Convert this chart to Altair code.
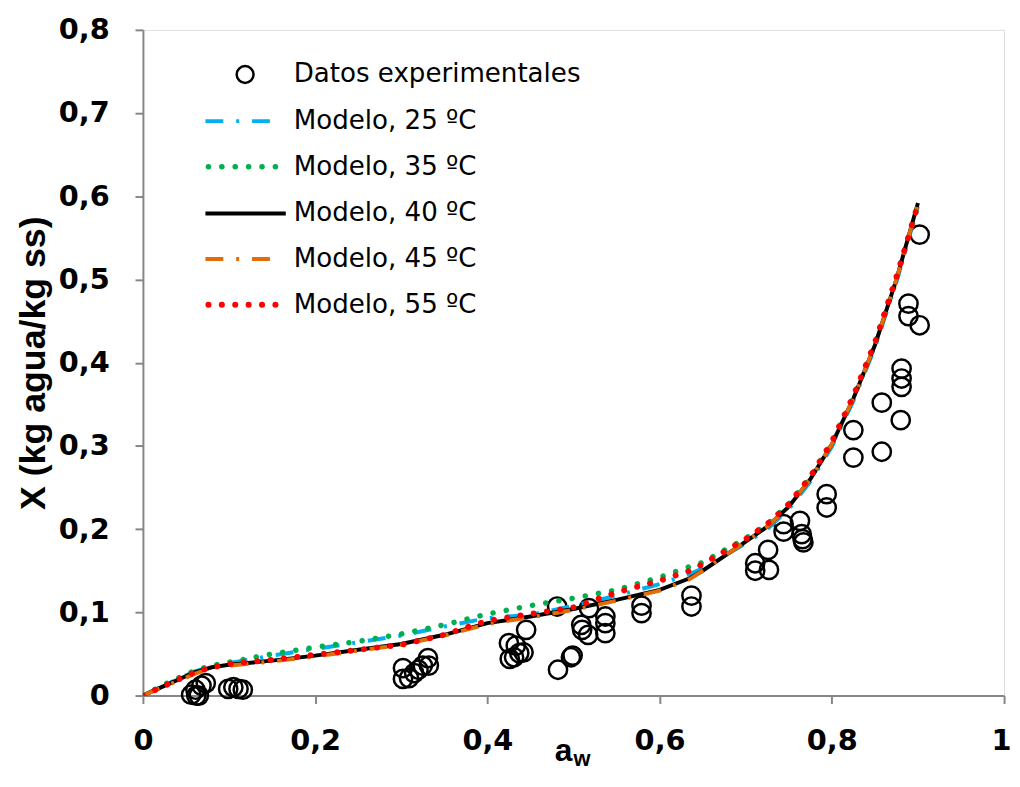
import altair as alt
import pandas as pd

# Experimental data (a_w, X)
exp_aw = [0.056, 0.061, 0.065, 0.068, 0.073, 0.062,
          0.099, 0.105, 0.111, 0.116,
          0.302, 0.302, 0.309, 0.315, 0.320, 0.325, 0.331, 0.332,
          0.425, 0.426, 0.431, 0.433, 0.437, 0.442, 0.445,
          0.481, 0.482, 0.497, 0.499,
          0.509, 0.510, 0.517, 0.518, 0.537, 0.537, 0.537,
          0.579, 0.579, 0.637, 0.637,
          0.711, 0.711, 0.727, 0.726,
          0.744, 0.744, 0.763, 0.765, 0.766, 0.767,
          0.794, 0.794,
          0.825, 0.825, 0.858, 0.858, 0.880, 0.881, 0.881, 0.881,
          0.889, 0.889, 0.902, 0.902]
exp_x = [0.001, 0.007, 0.000, 0.012, 0.015, 0.000,
         0.008, 0.010, 0.008, 0.007,
         0.033, 0.020, 0.021, 0.027, 0.031, 0.036, 0.045, 0.036,
         0.063, 0.044, 0.046, 0.060, 0.051, 0.052, 0.079,
         0.107, 0.031, 0.046, 0.048,
         0.085, 0.079, 0.073, 0.105, 0.095, 0.087, 0.075,
         0.108, 0.099, 0.120, 0.107,
         0.159, 0.150, 0.151, 0.175,
         0.206, 0.197, 0.210, 0.194, 0.188, 0.184,
         0.242, 0.226,
         0.319, 0.286, 0.293, 0.352, 0.331, 0.393, 0.381, 0.371,
         0.471, 0.456, 0.445, 0.554]

# Model curves
aw_model = [0.0, 0.03, 0.06, 0.08, 0.10, 0.15, 0.20, 0.25, 0.30, 0.35, 0.40, 0.45,
            0.50, 0.55, 0.60, 0.635, 0.65, 0.70, 0.725, 0.75, 0.775, 0.80, 0.825,
            0.85, 0.875, 0.90]
x_25 = [0.000, 0.015, 0.029, 0.035, 0.039, 0.048, 0.056, 0.064, 0.072, 0.083, 0.093, 0.097,
        0.108, 0.120, 0.134, 0.146, 0.153, 0.183, 0.200, 0.224, 0.257, 0.299, 0.354,
        0.418, 0.497, 0.588]
x_35 = [0.000, 0.016, 0.030, 0.036, 0.040, 0.050, 0.058, 0.065, 0.074, 0.085, 0.098, 0.108,
        0.117, 0.127, 0.142, 0.155, 0.160, 0.189, 0.206, 0.230, 0.262, 0.303, 0.358,
        0.422, 0.500, 0.590]
x_40 = [0.000, 0.014, 0.028, 0.034, 0.037, 0.042, 0.048, 0.055, 0.062, 0.073, 0.087, 0.095,
        0.104, 0.115, 0.127, 0.141, 0.150, 0.185, 0.203, 0.227, 0.260, 0.302, 0.357,
        0.421, 0.500, 0.592]
x_45 = [0.000, 0.013, 0.026, 0.033, 0.036, 0.041, 0.047, 0.054, 0.061, 0.072, 0.086, 0.094,
        0.103, 0.114, 0.126, 0.140, 0.150, 0.185, 0.203, 0.227, 0.260, 0.302, 0.357,
        0.421, 0.500, 0.591]
x_55 = [0.000, 0.014, 0.028, 0.034, 0.038, 0.043, 0.049, 0.055, 0.061, 0.073, 0.090, 0.098,
        0.106, 0.124, 0.138, 0.150, 0.158, 0.188, 0.206, 0.230, 0.263, 0.305, 0.360,
        0.424, 0.503, 0.590]

legend_labels = ["Datos experimentales", "Modelo, 25 ºC", "Modelo, 35 ºC",
                 "Modelo, 40 ºC", "Modelo, 45 ºC", "Modelo, 55 ºC"]

FONT = "Liberation Sans"
WFONT = "DejaVu Sans"
W, H = 868, 671

exp_df = pd.DataFrame({"aw": exp_aw, "X": exp_x})

xscale = alt.Scale(domain=[0, 1], nice=False)
yscale = alt.Scale(domain=[0, 0.8], nice=False)

label_expr = "replace(format(datum.value, '.1~f'), '.', ',')"

x_axis = alt.Axis(values=[0, 0.2, 0.4, 0.6, 0.8, 1.0], labelExpr=label_expr, title=None,
                  grid=False, labelFont=WFONT, labelFontSize=29, labelFontWeight="bold",
                  labelColor="black", domainColor="#868686", domainWidth=2,
                  tickColor="#868686", tickWidth=2, tickSize=8, labelPadding=23,
                  labelFlush=False,
                  labelOffset={"condition": {"test": "datum.value === 1", "value": -3},
                               "value": 0})
y_axis = alt.Axis(values=[0, 0.1, 0.2, 0.3, 0.4, 0.5, 0.6, 0.7, 0.8], labelExpr=label_expr,
                  title="X (kg agua/kg ss)", grid=False, labelFont=WFONT, labelFontSize=29,
                  labelFontWeight="bold", labelColor="black", domainColor="#868686",
                  domainWidth=2, tickColor="#868686", tickWidth=2, tickSize=8,
                  labelPadding=26, titleFont=FONT, titleFontSize=36, titleFontWeight="bold",
                  titleColor="black", titlePadding=6, labelFlush=False)

points = alt.Chart(exp_df).mark_point(shape="circle", size=340, filled=False,
                                      stroke="black", strokeWidth=2.5, opacity=1).encode(
    x=alt.X("aw:Q", scale=xscale, axis=x_axis),
    y=alt.Y("X:Q", scale=yscale, axis=y_axis),
)


def model_line(vals, color, dash, width, cap="butt"):
    df = pd.DataFrame({"aw": aw_model, "X": vals})
    kw = dict(color=color, strokeWidth=width, strokeCap=cap, clip=True)
    if dash:
        kw["strokeDash"] = dash
    return alt.Chart(df).mark_line(**kw).encode(
        x=alt.X("aw:Q", scale=xscale),
        y=alt.Y("X:Q", scale=yscale),
    )


BLUE = "#00B0F0"
GREEN = "#00B050"
ORANGE = "#E36C09"
RED = "#FF0000"

DASHDOT = [18, 13, 3, 13]
DOT = [0.1, 13.4]

l25 = model_line(x_25, BLUE, DASHDOT, 4)
l35 = model_line(x_35, GREEN, DOT, 5.5, "round")
l40 = model_line(x_40, "black", None, 4)
l45 = model_line(x_45, ORANGE, DASHDOT, 4)
l55 = model_line(x_55, RED, DOT, 6, "round")

# Legend (in-plot, drawn manually)
leg_y = [45, 92, 138, 185, 231, 277]
leg_df = pd.DataFrame({"label": legend_labels, "ly": leg_y})
leg_text = alt.Chart(leg_df).mark_text(align="left", baseline="middle", font=WFONT,
                                       fontSize=26.3, color="black").encode(
    x=alt.value(152), y=alt.Y("ly:Q", scale=None), text="label:N")

leg_circle = alt.Chart(leg_df.iloc[[0]]).mark_point(
    shape="circle", size=290, filled=False, stroke="black", strokeWidth=2.5, opacity=1
).encode(x=alt.value(103), y=alt.Y("ly:Q", scale=None))


def leg_line(i, color, dash, width, cap="butt", x1=63, x2=140):
    kw = dict(color=color, strokeWidth=width, strokeCap=cap)
    if dash:
        kw["strokeDash"] = dash
    return alt.Chart(leg_df.iloc[[i]]).mark_rule(**kw).encode(
        x=alt.value(x1), x2=alt.value(x2), y=alt.Y("ly:Q", scale=None))


leg_lines = [
    leg_line(1, BLUE, DASHDOT, 4, x1=63, x2=130),
    leg_line(2, GREEN, DOT, 5.5, "round", x1=66, x2=137),
    leg_line(3, "black", None, 4, x1=63, x2=144),
    leg_line(4, ORANGE, DASHDOT, 4, x1=63, x2=130),
    leg_line(5, RED, DOT, 6, "round", x1=66, x2=137),
]

# x-axis title a_w with subscript
title_df = pd.DataFrame({"t": ["a"], "s": ["w"]})
xt_main = alt.Chart(title_df).mark_text(font=FONT, fontSize=32, fontWeight="bold",
                                        color="black", align="center",
                                        baseline="alphabetic").encode(
    x=alt.value(424), y=alt.value(H + 66), text="t:N")
xt_sub = alt.Chart(title_df).mark_text(font=FONT, fontSize=22, fontWeight="bold",
                                       color="black", align="left",
                                       baseline="alphabetic").encode(
    x=alt.value(434), y=alt.value(H + 71), text="s:N")

chart = alt.layer(points, l25, l35, l40, l45, l55, leg_circle, *leg_lines, leg_text,
                  xt_main, xt_sub).properties(
    width=W, height=H,
    padding={"left": 136, "top": 19, "right": 8, "bottom": 72},
    autosize=alt.AutoSizeParams(type="none"),
).configure_view(stroke=None).configure(background="white")

chart.save("out.html", embed_options={"renderer": "svg", "actions": False})
